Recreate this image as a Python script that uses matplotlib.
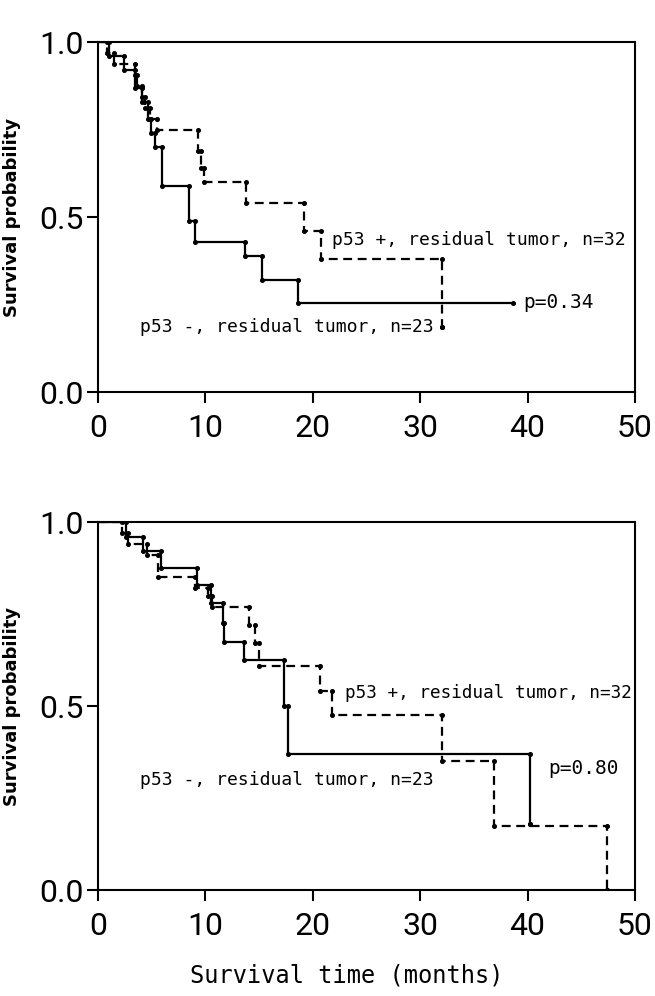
import matplotlib
matplotlib.use("Agg")
import matplotlib.pyplot as plt

# Kaplan-Meier steps: (months, survival)
top_neg_t = [0, 1.0, 2.4, 3.4, 4.1, 4.7, 4.9, 5.3, 6.0, 8.5, 9.0, 13.7, 15.3, 18.6]
top_neg_s = [1.0, 0.96, 0.92, 0.87, 0.83, 0.78, 0.74, 0.70, 0.59, 0.49, 0.43, 0.39, 0.32, 0.255]
top_neg_end = 38.6

top_pos_t = [0, 0.8, 1.5, 3.4, 3.6, 4.1, 4.4, 4.8, 5.5, 9.3, 9.6, 9.9, 13.8, 19.2, 20.8, 32.0]
top_pos_s = [1.0, 0.969, 0.938, 0.906, 0.875, 0.844, 0.812, 0.781, 0.75, 0.69, 0.64, 0.60,
             0.54, 0.46, 0.38, 0.185]
top_pos_end = 32.0

bot_neg_t = [0, 2.6, 4.2, 5.9, 9.2, 10.5, 11.6, 11.7, 13.6, 17.3, 17.7, 40.2]
bot_neg_s = [1.0, 0.96, 0.92, 0.875, 0.83, 0.78, 0.725, 0.675, 0.625, 0.50, 0.37, 0.18]
bot_neg_end = 40.2

bot_pos_t = [0, 2.2, 2.8, 4.6, 5.6, 9.0, 10.2, 10.6, 14.1, 14.6, 15.0, 20.7, 21.8, 32.0,
             36.9, 47.4]
bot_pos_s = [1.0, 0.97, 0.94, 0.91, 0.85, 0.82, 0.80, 0.77, 0.72, 0.67, 0.61, 0.54, 0.475,
             0.35, 0.175, 0.0]
bot_pos_end = 47.4

xticks = [0, 10, 20, 30, 40, 50]
yticks = [0.0, 0.5, 1.0]
ytick_labels = ["0.0", "0.5", "1.0"]

label_pos = "p53 +, residual tumor, n=32"
label_neg = "p53 -, residual tumor, n=23"
p_top = "p=0.34"
p_bot = "p=0.80"

tick_font = ["Roboto", "DejaVu Sans"]
mono = "DejaVu Sans Mono"


def km(ax, t, s, end, ls):
    xs = list(t) + [end]
    ys = list(s) + [s[-1]]
    ax.step(xs, ys, where="post", color="black", lw=1.6, ls=ls)
    # dots at the corners of every drop
    cx, cy = [], []
    for i in range(1, len(t)):
        cx += [t[i], t[i]]
        cy += [s[i - 1], s[i]]
    cx.append(end)
    cy.append(s[-1])
    ax.plot(cx, cy, "o", color="black", ms=2.6, ls="none")


def setup(ax):
    ax.set_xlim(0, 50)
    ax.set_ylim(0, 1.0)
    ax.set_xticks(xticks)
    ax.set_yticks(yticks)
    ax.set_yticklabels(ytick_labels)
    for sp in ax.spines.values():
        sp.set_linewidth(1.5)
    ax.tick_params(direction="out", length=8, width=1.5, labelsize=23)
    ax.tick_params(axis="x", pad=8)
    ax.tick_params(axis="y", pad=2)
    for lab in ax.get_xticklabels() + ax.get_yticklabels():
        lab.set_family(tick_font)
    ax.set_ylabel("Survival probability", fontsize=13, fontweight="bold")
    ax.yaxis.set_label_coords(-0.143, 0.5)


fig = plt.figure(figsize=(6.55, 9.96), dpi=100)
ax1 = fig.add_axes([0.1496, 0.6064, 0.8198, 0.3514])
ax2 = fig.add_axes([0.1496, 0.1064, 0.8198, 0.3695])

km(ax1, top_pos_t, top_pos_s, top_pos_end, (0, (4, 2.5)))
km(ax1, top_neg_t, top_neg_s, top_neg_end, "-")
setup(ax1)
ax1.text(21.8, 0.434, label_pos, family=mono, fontsize=13, va="center")
ax1.text(39.6, 0.257, p_top, family=mono, fontsize=14, va="center")
ax1.text(3.9, 0.186, label_neg, family=mono, fontsize=13, va="center")

km(ax2, bot_pos_t, bot_pos_s, bot_pos_end, (0, (4, 2.5)))
km(ax2, bot_neg_t, bot_neg_s, bot_neg_end, "-")
setup(ax2)
ax2.text(23.0, 0.535, label_pos, family=mono, fontsize=12.7, va="center")
ax2.text(41.9, 0.33, p_bot, family=mono, fontsize=14, va="center")
ax2.text(3.9, 0.30, label_neg, family=mono, fontsize=13, va="center")

fig.text(347 / 655, 1 - 975 / 996, "Survival time (months)", family=mono,
         fontsize=17, ha="center", va="center")

fig.savefig("out.png", dpi=100)
